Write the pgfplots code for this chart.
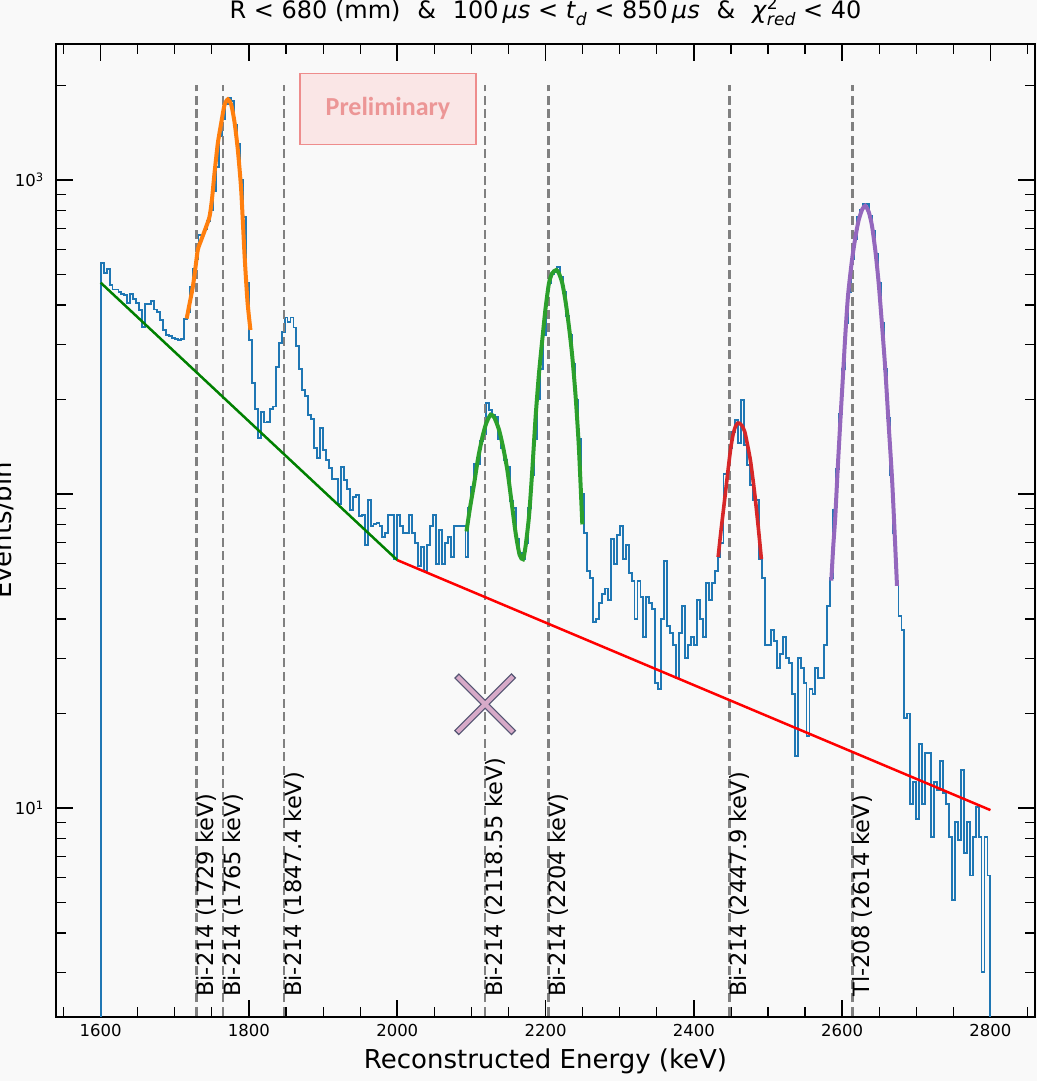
\documentclass[border=0pt]{standalone}
\usepackage{fontspec}
\setmainfont{DejaVu Sans}
\newfontfamily\carlito{Carlito}
\usepackage{pgfplots}
\usepackage{pgfplotstable}
\pgfplotsset{compat=1.18}
\pgfdeclarelayer{background}
\pgfsetlayers{background,main}
\definecolor{bgc}{RGB}{249,249,249}
\definecolor{c0}{RGB}{31,119,180}
\definecolor{c1}{RGB}{255,127,14}
\definecolor{c2}{RGB}{44,160,44}
\definecolor{c3}{RGB}{214,39,40}
\definecolor{c4}{RGB}{148,103,189}
\definecolor{dgreen}{RGB}{0,128,0}
\definecolor{vgray}{RGB}{128,128,128}
\definecolor{prfill}{RGB}{250,230,230}
\definecolor{prdraw}{RGB}{238,140,140}
\definecolor{prtext}{RGB}{236,150,150}
\definecolor{xout}{RGB}{85,85,115}
\definecolor{xin}{RGB}{215,170,200}

\pgfplotstableread{
E v
1600 0.5
1600 543
1604 507
1608 519
1612 462
1616 448
1620 448
1624 441
1628 433
1632 430
1636 405
1640 433
1644 417
1648 405
1652 385
1656 340
1660 404
1664 404
1668 413
1672 387
1676 381
1680 358
1684 333
1688 321
1692 318
1696 313
1700 312
1704 309
1708 311
1712 360
1716 380
1720 457
1724 520
1728 560
1732 668
1736 668
1740 700
1744 740
1748 800
1752 920
1756 1100
1760 1380
1764 1560
1768 1750
1772 1830
1776 1780
1780 1500
1784 1300
1788 1000
1792 760
1796 470
1800 309
1804 226
1808 187
1812 151
1816 183
1820 169
1824 170
1828 186
1832 190
1836 253
1840 302
1844 327
1848 365
1852 354
1856 365
1860 339
1864 296
1868 250
1872 214
1876 205
1880 179
1884 173
1888 140
1892 130
1896 162
1900 138
1904 128
1908 121
1912 112
1916 112
1920 93
1924 122
1928 111
1932 104
1936 89
1940 98
1944 99
1948 85
1952 86
1956 69
1960 96
1964 79
1968 80
1972 81
1976 79
1980 73
1984 75
1988 86
1992 86
1996 62
2000 86
2004 79
2008 75
2012 75
2016 86
2020 75
2024 70
2028 59
2032 68
2036 57
2040 69
2044 79
2048 86
2052 60
2056 77
2060 60
2064 70
2068 73
2072 63
2076 79
2080 79
2084 79
2088 79
2092 63
2096 90
2100 105
2104 125
2108 125
2112 148
2116 155
2120 195
2124 185
2128 178
2132 176
2136 150
2140 140
2144 128
2148 122
2152 95
2156 90
2160 72
2164 65
2168 62
2172 70
2176 90
2180 115
2184 150
2188 200
2192 250
2196 320
2200 400
2204 470
2208 500
2212 510
2216 530
2220 490
2224 440
2228 370
2232 320
2236 260
2240 200
2244 150
2248 100
2252 75
2256 57
2260 54
2264 39
2268 40
2272 45
2276 48
2280 50
2284 46
2288 72
2292 60
2296 74
2300 79
2304 62
2308 69
2312 56
2316 53
2320 40
2324 53
2328 47
2332 35
2336 47
2340 45
2344 43
2348 25
2352 24
2356 40
2360 61
2364 38
2368 36
2372 33
2376 26
2380 36
2384 44
2388 30
2392 33
2396 35
2400 33
2404 46
2408 40
2412 35
2416 52
2420 46
2424 52
2428 57
2432 63
2436 70
2440 116
2444 116
2448 140
2452 158
2456 172
2460 145
2464 199
2468 143
2472 124
2476 107
2480 96
2484 96
2488 62
2492 54
2496 33
2500 33
2504 37
2508 34
2512 28
2516 31
2520 35
2524 30
2528 29
2532 23
2536 14.6
2540 30
2544 28
2548 25
2552 17
2556 24
2560 23
2564 28
2568 26
2572 26
2576 33
2580 44
2584 54
2588 89
2592 120
2596 180
2600 250
2604 350
2608 440
2612 560
2616 650
2620 760
2624 800
2628 840
2632 840
2636 770
2640 690
2644 580
2648 470
2652 350
2656 250
2660 175
2664 115
2668 75
2672 52
2676 41
2680 37
2684 19.3
2688 20
2692 10.3
2696 12.1
2700 9.2
2704 16
2708 10.3
2712 15
2716 15
2720 8.1
2724 12.1
2728 11.4
2732 14.1
2736 11.2
2740 10.3
2744 8.1
2748 5.1
2752 9.0
2756 7.9
2760 13.2
2764 7.2
2768 9.0
2772 6.1
2776 8.1
2780 10.1
2784 8.1
2788 3.0
2792 8.1
2796 6.1
2800 6.1
2800 0.5
}\hist

\newcommand{\sub}[1]{\raisebox{-0.28em}{\fontsize{8.6}{10}\selectfont\itshape #1}}
\newcommand{\supsub}[2]{\rlap{\raisebox{0.4em}{\fontsize{8.6}{10}\selectfont #1}}\raisebox{-0.28em}{\fontsize{8.6}{10}\selectfont\itshape #2}}

\begin{document}
\begin{tikzpicture}
\begin{axis}[
  at={(0,0)}, anchor=south west,
  scale only axis, width=489.5pt, height=486.5pt,
  xmin=1540, xmax=2860,
  ymode=log, ymin=2.165, ymax=2711,
  xtick={1600,1800,2000,2200,2400,2600,2800},
  xticklabels={1600,1800,2000,2200,2400,2600,2800},
  minor xtick={1550,1650,1700,1750,1850,1900,1950,2050,2100,2150,2250,2300,2350,2450,2500,2550,2650,2700,2750,2850},
  ytick={10,100,1000},
  yticklabels={10\textsuperscript{1},,10\textsuperscript{3}},
  minor ytick={3,4,5,6,7,8,9,20,30,40,50,60,70,80,90,200,300,400,500,600,700,800,900,2000},
  tick align=inside, tick pos=both,
  major tick length=8.5pt, minor tick length=5pt,
  major tick style={line width=0.8pt, black},
  minor tick style={line width=0.6pt, black},
  axis line style={line width=0.8pt},
  axis background/.style={fill=bgc},
  tick label style={font=\fontsize{8.25}{10}\selectfont},
  yticklabel style={xshift=-2.5pt},
  xlabel={Reconstructed Energy (keV)},
  xlabel style={font=\fontsize{13}{15}\selectfont, at={(rel axis cs:0.5,0)}, anchor=base, yshift=-25.65pt},
  ylabel={Events/bin},
  ylabel style={font=\fontsize{13}{15}\selectfont, at={(rel axis cs:-0.04515,0.5)}, anchor=base},
  title={R < 680 (mm)\hspace{0.7em}\&\hspace{0.7em}100\,\textit{μs} < \textit{t}\sub{d} < 850\,\textit{μs}\hspace{0.7em}\&\hspace{0.7em}\textit{χ}\supsub{2}{red} < 40},
  title style={font=\fontsize{12}{14}\selectfont, at={(rel axis cs:0.5,1)}, anchor=base, yshift=6.5pt},
]
\coordinate (LL) at (rel axis cs:0,0);
\coordinate (UR) at (rel axis cs:1,1);

\addplot[c0, line width=0.95pt, const plot mark left] table[x=E,y=v] {\hist};

\pgfplotsinvokeforeach{1729,1765,1847.4,2118.55,2204,2447.9,2614}{
  \addplot[vgray, line width=1.3pt, dash pattern=on 4.5pt off 2.2pt] coordinates {(#1,0.5) (#1,2000)};
}

\addplot[c1, line width=2pt, smooth, tension=0.4] coordinates {
(1716,362) (1720,405) (1724.3,457) (1728,530) (1731,599) (1735.6,644) (1742.3,710) (1746.8,764) (1750,863) (1753.5,1050) (1758,1309) (1762.5,1515) (1767,1733) (1771.5,1807) (1776,1740) (1780.5,1530) (1785,1246) (1789.5,930) (1794,580) (1798,410) (1802,333)};

\addplot[c2, line width=2pt, smooth, tension=0.4] coordinates {
(2093.4,76) (2098,90) (2103.7,108) (2109,130) (2114.9,152) (2120,168) (2126,179) (2131,175) (2137.3,160) (2143,140) (2148.5,119) (2154,95) (2159.7,75) (2165,64) (2169.6,62) (2173,68) (2177.7,85) (2182,118) (2186.6,176) (2191,240) (2195.6,310) (2200,390) (2204.6,469) (2209,505) (2214.5,517) (2218,505) (2222.6,469) (2227,410) (2231.6,341) (2236,275) (2240.6,204) (2245,140) (2249.6,80)};

\addplot[c3, line width=1.8pt, smooth, tension=0.4] coordinates {
(2432.8,63) (2436.5,76) (2440.4,91) (2445,113) (2449.4,138) (2453,155) (2456.1,164) (2459,168) (2461.5,168) (2465,165) (2468.6,158) (2472,145) (2476.3,128) (2480,110) (2483,96) (2487,78) (2491.1,62)};

\addplot[c4, line width=2pt, smooth, tension=0.4] coordinates {
(2585.4,53) (2588,68) (2590.8,85) (2594,120) (2597.6,171) (2601,235) (2604.3,321) (2608,430) (2613.3,556) (2618,660) (2622.3,745) (2627,805) (2631.3,828) (2636,790) (2640.3,714) (2645,590) (2649.3,469) (2654,340) (2658.2,250) (2662.5,170) (2667.2,113) (2670.5,78) (2674,51)};

\addplot[dgreen, line width=1.25pt] coordinates {(1600,471) (2000,61.6)};
\addplot[red, line width=1.25pt] coordinates {(2000,61.6) (2800,9.85)};

\addplot[only marks, mark=x, mark size=20.3pt, mark options={xout, line width=3.4pt}] coordinates {(2118.55,21.4)};
\addplot[only marks, mark=x, mark size=19.6pt, mark options={xin, line width=2.1pt}] coordinates {(2118.55,21.4)};

\foreach \e/\t in {1729/Bi-214 (1729 keV),1765/Bi-214 (1765 keV),1847.4/Bi-214 (1847.4 keV),2118.55/Bi-214 (2118.55 keV),2204/Bi-214 (2204 keV),2447.9/Bi-214 (2447.9 keV),2614/Tl-208 (2614 keV)}{
  \edef\temp{\noexpand\node[rotate=90, anchor=base west, inner sep=0pt, font=\noexpand\fontsize{11.25}{13}\noexpand\selectfont] at ([xshift=8.5pt]axis cs:\e,2.5) {\t};}
  \temp
}

\node[draw=prdraw, fill=prfill, line width=0.8pt, minimum width=88pt, minimum height=35.5pt, inner sep=0pt, text=prtext, font=\carlito\bfseries\fontsize{13}{15}\selectfont] at (rel axis cs:0.339,0.9333) {\raisebox{-1.5pt}{Preliminary}};
\end{axis}
\begin{pgfonlayer}{background}
\fill[bgc] ([shift={(-28.1pt,-32.15pt)}]LL) rectangle ([shift={(1pt,22pt)}]UR);
\end{pgfonlayer}
\pgfresetboundingbox
\path ([shift={(-28.1pt,-32.15pt)}]LL) rectangle ([shift={(1pt,22pt)}]UR);
\end{tikzpicture}
\end{document}
